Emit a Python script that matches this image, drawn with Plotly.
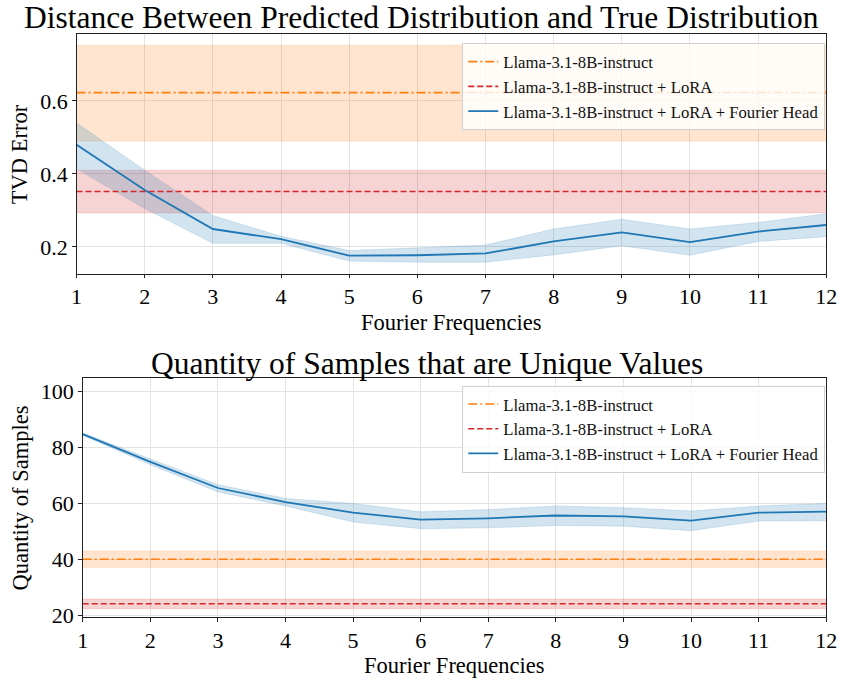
import plotly.graph_objects as go

# Fourier frequency counts on the x axis
freqs = list(range(1, 13))

# TVD error of the Fourier-head model (mean and confidence band)
tvd_mean = [0.480, 0.356, 0.249, 0.221, 0.176, 0.177, 0.182, 0.215, 0.240, 0.213, 0.242, 0.260]
tvd_lower = [0.414, 0.305, 0.210, 0.210, 0.161, 0.158, 0.158, 0.178, 0.203, 0.177, 0.215, 0.228]
tvd_upper = [0.540, 0.410, 0.286, 0.229, 0.190, 0.197, 0.205, 0.249, 0.276, 0.249, 0.267, 0.291]

# TVD error of the baselines (mean, lower, upper)
tvd_base = [0.623, 0.490, 0.753]
tvd_lora = [0.352, 0.293, 0.410]

# Number of unique sampled values for the Fourier-head model
uniq_mean = [84.7, 74.8, 65.5, 60.5, 56.7, 54.2, 54.7, 55.7, 55.4, 53.9, 56.7, 57.1]
uniq_lower = [84.3, 73.8, 64.1, 59.1, 53.4, 51.0, 51.3, 52.1, 51.9, 50.3, 53.7, 53.8]
uniq_upper = [85.1, 75.8, 66.7, 61.8, 60.0, 57.0, 57.8, 59.1, 58.5, 57.3, 59.1, 60.0]

# Unique-value counts of the baselines (mean, lower, upper)
uniq_base = [40.1, 37.2, 43.05]
uniq_lora = [24.2, 22.4, 25.9]

names = [
    "Llama-3.1-8B-instruct",
    "Llama-3.1-8B-instruct + LoRA",
    "Llama-3.1-8B-instruct + LoRA + Fourier Head",
]

ORANGE = (255, 127, 14)
RED = (214, 39, 40)
BLUE = (31, 119, 180)
FONT = "Liberation Serif, Times New Roman, serif"

W, H = 849, 681


def rgba(c, a=1.0):
    return "rgba(%d,%d,%d,%.3f)" % (c[0], c[1], c[2], a)


fig = go.Figure()


def band(xs, lo, hi, color, xa, ya):
    fig.add_trace(go.Scatter(x=xs, y=lo, mode="lines", line=dict(width=0.6, color=rgba(color, 0.25)),
                             showlegend=False, hoverinfo="skip", xaxis=xa, yaxis=ya))
    fig.add_trace(go.Scatter(x=xs, y=hi, mode="lines", line=dict(width=0.6, color=rgba(color, 0.25)),
                             fill="tonexty", fillcolor=rgba(color, 0.2),
                             showlegend=False, hoverinfo="skip", xaxis=xa, yaxis=ya))


def panel(mean, lower, upper, base, lora, xa, ya, legend):
    xs_flat = [freqs[0], freqs[-1]]
    band(xs_flat, [base[1]] * 2, [base[2]] * 2, ORANGE, xa, ya)
    band(xs_flat, [lora[1]] * 2, [lora[2]] * 2, RED, xa, ya)
    band(freqs, lower, upper, BLUE, xa, ya)
    fig.add_trace(go.Scatter(x=xs_flat, y=[base[0]] * 2, mode="lines", name=names[0],
                             line=dict(color=rgba(ORANGE), width=1.6, dash="9px,3px,2px,3px"),
                             xaxis=xa, yaxis=ya, legend=legend))
    fig.add_trace(go.Scatter(x=xs_flat, y=[lora[0]] * 2, mode="lines", name=names[1],
                             line=dict(color=rgba(RED), width=1.6, dash="6px,3px"),
                             xaxis=xa, yaxis=ya, legend=legend))
    fig.add_trace(go.Scatter(x=freqs, y=mean, mode="lines", name=names[2],
                             line=dict(color=rgba(BLUE), width=1.8),
                             xaxis=xa, yaxis=ya, legend=legend))


panel(tvd_mean, tvd_lower, tvd_upper, tvd_base, tvd_lora, "x", "y", "legend")
panel(uniq_mean, uniq_lower, uniq_upper, uniq_base, uniq_lora, "x2", "y2", "legend2")


def px_x(p):
    return p / W


def px_y(p):
    return (H - p) / H


axis_common = dict(
    showline=True, mirror=True, linecolor="#222", linewidth=1,
    showgrid=True, gridcolor="#e3e3e3", gridwidth=1, zeroline=False,
    ticks="outside", ticklen=3.5, tickcolor="#222",
    tickfont=dict(family=FONT, size=22, color="black"),
)

legend_common = dict(
    xanchor="right", yanchor="top", traceorder="normal",
    bgcolor="rgba(255,255,255,0.82)", bordercolor="#d0d0d0", borderwidth=1,
    font=dict(family=FONT, size=16.7, color="#111"),
)

fig.update_layout(
    width=W, height=H,
    margin=dict(l=0, r=0, t=0, b=0),
    paper_bgcolor="white", plot_bgcolor="white",
    font=dict(family=FONT, color="black"),
    xaxis=dict(domain=[px_x(72), px_x(837)], range=[1, 12], tickvals=freqs,
               anchor="y", **axis_common),
    yaxis=dict(domain=[px_y(278), px_y(35)], range=[0.127, 0.7825],
               tickvals=[0.2, 0.4, 0.6], ticktext=["0.2", "0.4", "0.6"],
               anchor="x", **axis_common),
    xaxis2=dict(domain=[px_x(78.3), px_x(837)], range=[1, 12], tickvals=freqs,
                anchor="y2", **axis_common),
    yaxis2=dict(domain=[px_y(627.3), px_y(384)], range=[19.44, 104.8],
                tickvals=[20, 40, 60, 80, 100], anchor="x2", **axis_common),
    legend=dict(x=px_x(836), y=px_y(44), **legend_common),
    legend2=dict(x=px_x(836), y=px_y(392), **legend_common),
)

annotations = [
    dict(text="Distance Between Predicted Distribution and True Distribution",
         x=px_x(424), y=px_y(18), font=dict(size=31.5)),
    dict(text="Quantity of Samples that are Unique Values",
         x=px_x(430), y=px_y(369), font=dict(size=31.5)),
    dict(text="Fourier Frequencies", x=px_x(455), y=px_y(328), font=dict(size=22.5)),
    dict(text="Fourier Frequencies", x=px_x(458), y=px_y(676), font=dict(size=22.5)),
    dict(text="TVD Error", x=px_x(14), y=px_y(157), textangle=-90, font=dict(size=22.5)),
    dict(text="Quantity of Samples", x=px_x(15), y=px_y(506), textangle=-90, font=dict(size=22.5)),
]
for a in annotations:
    a.update(xref="paper", yref="paper", showarrow=False, xanchor="center", yanchor="middle")
    a["font"].update(family=FONT, color="black")
fig.update_layout(annotations=annotations)

fig.write_html("out.html")
